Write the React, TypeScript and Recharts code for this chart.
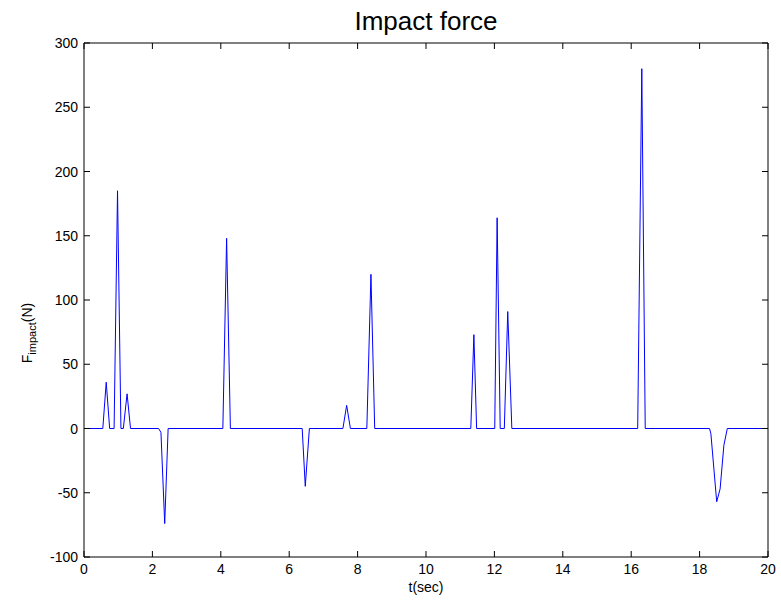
import React from 'react';
import { LineChart, Line, XAxis, YAxis } from 'recharts';

const times = [0, 0.55, 0.65, 0.75, 0.88, 0.98, 1.08, 1.15, 1.26, 1.36, 2.18, 2.25, 2.36, 2.46, 4.06, 4.17, 4.28, 6.38, 6.47, 6.59, 7.57, 7.68, 7.79, 8.27, 8.39, 8.5, 11.31, 11.4, 11.48, 12.01, 12.08, 12.17, 12.29, 12.39, 12.51, 16.19, 16.31, 16.41, 18.29, 18.33, 18.5, 18.6, 18.71, 18.81, 20];
const forces = [0, 0, 36, 0, 0, 185, 0, 0, 27, 0, 0, -3, -74, 0, 0, 148, 0, 0, -45, 0, 0, 18, 0, 0, 120, 0, 0, 73, 0, 0, 164, 0, 0, 91, 0, 0, 280, 0, 0, -4, -57, -47, -13, 0, 0];
const xTicks = [0, 2, 4, 6, 8, 10, 12, 14, 16, 18, 20];
const yTicks = [-100, -50, 0, 50, 100, 150, 200, 250, 300];

const data = times.map((t, i) => ({ t, f: forces[i] }));

const FONT = '"Liberation Sans", Arial, sans-serif';
const FS = 14;

const BottomTick = (props: any) => {
  const { x, y, payload } = props;
  return (
    <g>
      <line x1={x} x2={x} y1={y} y2={y - 6} stroke="#000" />
      <text x={x} y={y + 17} textAnchor="middle" fontSize={FS} fontFamily={FONT} fill="#000">{payload.value}</text>
    </g>
  );
};
const TopTick = (props: any) => {
  const { x, y } = props;
  return <line x1={x} x2={x} y1={y} y2={y + 6} stroke="#000" />;
};
const LeftTick = (props: any) => {
  const { x, y, payload } = props;
  return (
    <g>
      <line x1={x} x2={x + 6} y1={y} y2={y} stroke="#000" />
      <text x={x - 6} y={y + 5} textAnchor="end" fontSize={FS} fontFamily={FONT} fill="#000">{payload.value}</text>
    </g>
  );
};
const RightTick = (props: any) => {
  const { x, y } = props;
  return <line x1={x} x2={x - 6} y1={y} y2={y} stroke="#000" />;
};

const XLabel = (props: any) => {
  const vb = props.viewBox || {};
  return (
    <text x={vb.x + vb.width / 2} y={592} textAnchor="middle" fontSize={FS} fontFamily={FONT} fill="#000">t(sec)</text>
  );
};
const YLabel = () => (
  <text transform="translate(32,333) rotate(-90)" textAnchor="middle" fontSize={FS} fontFamily={FONT} fill="#000">
    F<tspan fontSize={11} dy={4}>impact</tspan><tspan dy={-4}>(N)</tspan>
  </text>
);

export default function App() {
  return (
    <div style={{ position: 'absolute', left: 0, top: 0, width: 781, height: 603, background: '#fff' }}>
      <div style={{ position: 'absolute', left: 0, top: 6, width: 852, textAlign: 'center', fontFamily: FONT, fontSize: 26, lineHeight: '30px', color: '#000' }}>Impact force</div>
      <LineChart width={781} height={603} data={data} margin={{ top: 42, right: 12, bottom: 0, left: 0 }}>
        <XAxis xAxisId="bottom" dataKey="t" type="number" domain={[0, 20]} ticks={xTicks} allowDataOverflow
          height={46} tickSize={0} tickMargin={0} tickLine={false} tick={<BottomTick />} stroke="#000" interval={0}
          label={<XLabel />} />
        <XAxis xAxisId="top" orientation="top" dataKey="t" type="number" domain={[0, 20]} ticks={xTicks} allowDataOverflow
          height={1} tickSize={0} tickMargin={0} tickLine={false} tick={<TopTick />} stroke="#000" interval={0} />
        <YAxis yAxisId="left" type="number" domain={[-100, 300]} ticks={yTicks} allowDataOverflow
          width={84} tickSize={0} tickMargin={0} tickLine={false} tick={<LeftTick />} stroke="#000" interval={0}
          label={<YLabel />} />
        <YAxis yAxisId="right" orientation="right" type="number" domain={[-100, 300]} ticks={yTicks} allowDataOverflow
          width={1} tickSize={0} tickMargin={0} tickLine={false} tick={<RightTick />} stroke="#000" interval={0} />
        <Line xAxisId="top" yAxisId="right" dataKey="f" stroke="none" dot={false} isAnimationActive={false} legendType="none" />
        <Line xAxisId="bottom" yAxisId="left" dataKey="f" type="linear" stroke="#0000ff" strokeWidth={1} dot={false} isAnimationActive={false} activeDot={false} />
      </LineChart>
    </div>
  );
}
